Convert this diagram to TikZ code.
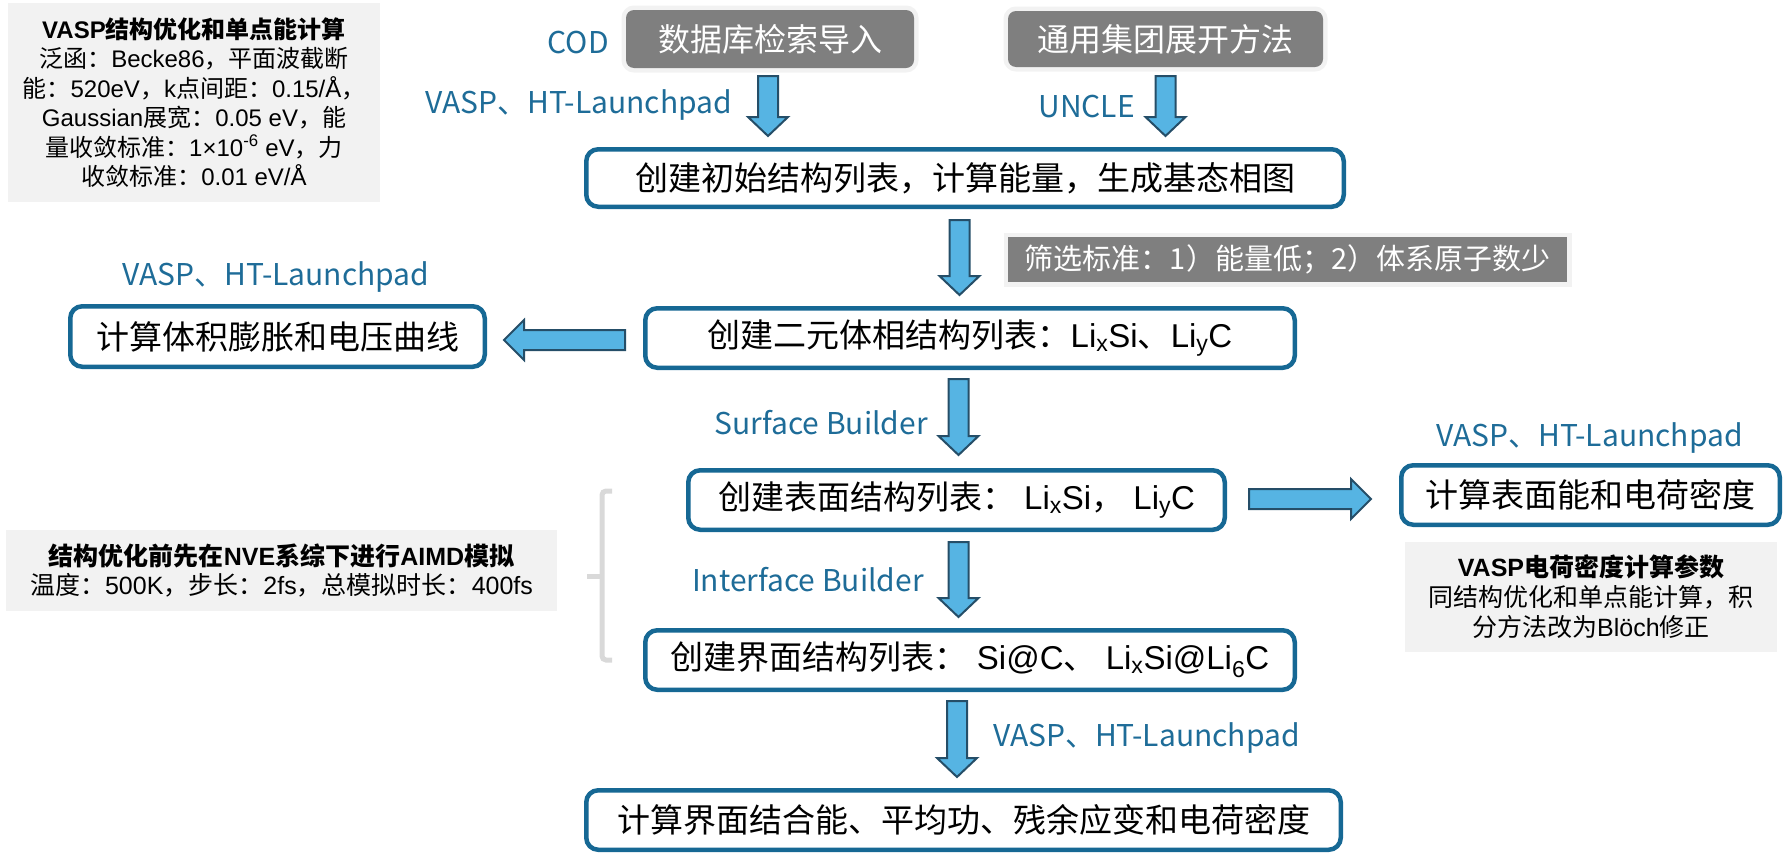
\documentclass[tikz,border=0pt]{standalone}
\usepackage{fontspec}
\setmainfont{Noto Sans CJK SC}
\newfontfamily\lat{Liberation Sans}
\usetikzlibrary{calc}
\definecolor{boxblue}{RGB}{22,104,148}
\definecolor{lblblue}{RGB}{30,108,152}
\definecolor{arrfill}{RGB}{86,180,227}
\definecolor{arrline}{RGB}{37,78,104}
\definecolor{gboxc}{RGB}{127,127,127}
\definecolor{haloc}{RGB}{242,242,242}
\definecolor{lboxc}{RGB}{242,242,242}
\definecolor{brkc}{RGB}{217,217,217}
\tikzset{
  mainbox/.style={draw=boxblue, line width=4.5pt, rounded corners=12pt, fill=white, inner sep=0pt, text=black, font=\fontsize{33}{40}\selectfont},
  graybox/.style={fill=gboxc, text=white, rounded corners=8pt, inner sep=0pt, preaction={draw=haloc, line width=9pt}, font=\fontsize{32}{38}\selectfont},
  lightbox/.style={fill=lboxc, inner sep=0pt, align=center, text=black},
  lbl/.style={text=lblblue, inner sep=0pt, font=\fontsize{30}{34}\selectfont},
  blk/.style={fill=arrfill, draw=arrline, line width=2pt, line join=miter},
  brk/.style={draw=brkc, line width=5pt, rounded corners=4pt},
}
\newcommand\blkdown[2]{\draw[blk] let \p1=(#1), \p2=(#2) in
  (\x1-10pt,\y1) -- (\x1-10pt,\y2+19pt) -- (\x1-20pt,\y2+19pt) -- (\x1,\y2)
  -- (\x1+20pt,\y2+19pt) -- (\x1+10pt,\y2+19pt) -- (\x1+10pt,\y1) -- cycle;}
\newcommand\blkleft[2]{\draw[blk] let \p1=(#1), \p2=(#2) in
  (\x1,\y1+10pt) -- (\x2+20pt,\y1+10pt) -- (\x2+20pt,\y1+20pt) -- (\x2,\y1)
  -- (\x2+20pt,\y1-20pt) -- (\x2+20pt,\y1-10pt) -- (\x1,\y1-10pt) -- cycle;}
\newcommand\blkright[2]{\draw[blk] let \p1=(#1), \p2=(#2) in
  (\x1,\y1+10pt) -- (\x2-20pt,\y1+10pt) -- (\x2-20pt,\y1+20pt) -- (\x2,\y1)
  -- (\x2-20pt,\y1-20pt) -- (\x2-20pt,\y1-10pt) -- (\x1,\y1-10pt) -- cycle;}
\begin{document}
\begin{tikzpicture}[x=1pt,y=-1pt]
\useasboundingbox (0,0) rectangle (1783,860);

% light gray info boxes
\node[lightbox, minimum width=372, minimum height=199, font=\fontsize{24}{29.4}\selectfont] (tl) at (194,102.5)
  {{\bfseries{\lat VASP}结构优化和单点能计算}\\
   泛函：{\lat Becke86}，平面波截断\\
   能：{\lat 520eV}，{\lat k}点间距：{\lat 0.15/Å}，\\
   {\lat Gaussian}展宽：{\lat 0.05 eV}，能\\
   量收敛标准：{\lat 1×10\textsuperscript{-6} eV}，力\\
   收敛标准：{\lat 0.01 eV/Å}};
\node[lightbox, minimum width=551, minimum height=81, font=\fontsize{25}{28.5}\selectfont] (aimd) at (281.5,570.5)
  {{\bfseries 结构优化前先在{\lat NVE}系综下进行{\lat AIMD}模拟}\\
   温度：{\lat 500K}，步长：{\lat 2fs}，总模拟时长：{\lat 400fs}};
\node[lightbox, minimum width=372, minimum height=110, font=\fontsize{25}{30}\selectfont] (rg) at (1591,597)
  {{\bfseries{\lat VASP}电荷密度计算参数}\\
   同结构优化和单点能计算，积\\
   分方法改为{\lat Blöch}修正};

% gray source boxes
\node[graybox, minimum width=288, minimum height=58] (db) at (770,39) {数据库检索导入};
\node[graybox, minimum width=315, minimum height=56] (uc) at (1165.5,39) {通用集团展开方法};
\node[graybox, rounded corners=0pt, minimum width=559, minimum height=45, font=\fontsize{29}{34}\selectfont] (filt) at (1287.5,259.5) {筛选标准：1）能量低；2）体系原子数少};

% main boxes
\node[mainbox, minimum width=757.5, minimum height=57.5] (b1) at (965,178) {创建初始结构列表，计算能量，生成基态相图};
\node[mainbox, minimum width=649.5, minimum height=59.5] (b2) at (970,338) {创建二元体相结构列表：{\lat Li\textsubscript{x}Si}、{\lat Li\textsubscript{y}C}};
\node[mainbox, minimum width=414.5, minimum height=60.5] (lb) at (277.5,336.5) {计算体积膨胀和电压曲线};
\node[mainbox, minimum width=536.5, minimum height=59.5] (b3) at (956.5,500) {创建表面结构列表：{\lat\ Li\textsubscript{x}Si}，{\lat\ Li\textsubscript{y}C}};
\node[mainbox, minimum width=649.5, minimum height=59.5] (b4) at (970,660) {创建界面结构列表：{\lat\ Si@C}、{\lat\ Li\textsubscript{x}Si@Li\textsubscript{6}C}};
\node[mainbox, minimum width=754.5, minimum height=59.5] (b5) at (963.5,820) {计算界面结合能、平均功、残余应变和电荷密度};
\node[mainbox, minimum width=378.5, minimum height=59.5] (rb) at (1590.5,495) {计算表面能和电荷密度};

% labels
\node[lbl, anchor=east] (lcod) at (609,43) {COD};
\node[lbl, anchor=east] (lv1) at (732,105) {VASP、HT-Launchpad};
\node[lbl, anchor=east] (lun) at (1135,107) {UNCLE};
\node[lbl] (lv2) at (276,277) {VASP、HT-Launchpad};
\node[lbl, anchor=east] (lsb) at (928,423) {Surface Builder};
\node[lbl, anchor=east] (lib) at (924,580) {Interface Builder};
\node[lbl] (lv3) at (1589.5,438) {VASP、HT-Launchpad};
\node[lbl, anchor=west] (lv4) at (993,738) {VASP、HT-Launchpad};

% block arrows
\blkdown{$(db.south)+(-2,8)$}{$(b1.north)+(0,-11)$}
\blkdown{$(uc.south)+(0,9)$}{$(b1.north)+(0,-11)$}
\blkdown{$(b1.south)+(-5.5,11)$}{$(b2.north)+(0,-11)$}
\blkdown{$(b2.south)+(-11.5,9)$}{$(b3.north)+(0,-13)$}
\blkdown{$(b3.south)+(2,10)$}{$(b4.north)+(0,-11)$}
\blkdown{$(b4.south)+(-13,9)$}{$(b5.north)+(0,-11)$}
\blkleft{$(b2.west)+(-18,2)$}{$(lb.east)+(17,0)$}
\blkright{$(b3.east)+(22,-1)$}{$(rb.west)+(-28,0)$}

% bracket
\draw[brk] (612,491) -- (602,491) -- (602,660) -- (612,660);
\draw[brk] (602,576) -- (587,576);
\end{tikzpicture}
\end{document}
